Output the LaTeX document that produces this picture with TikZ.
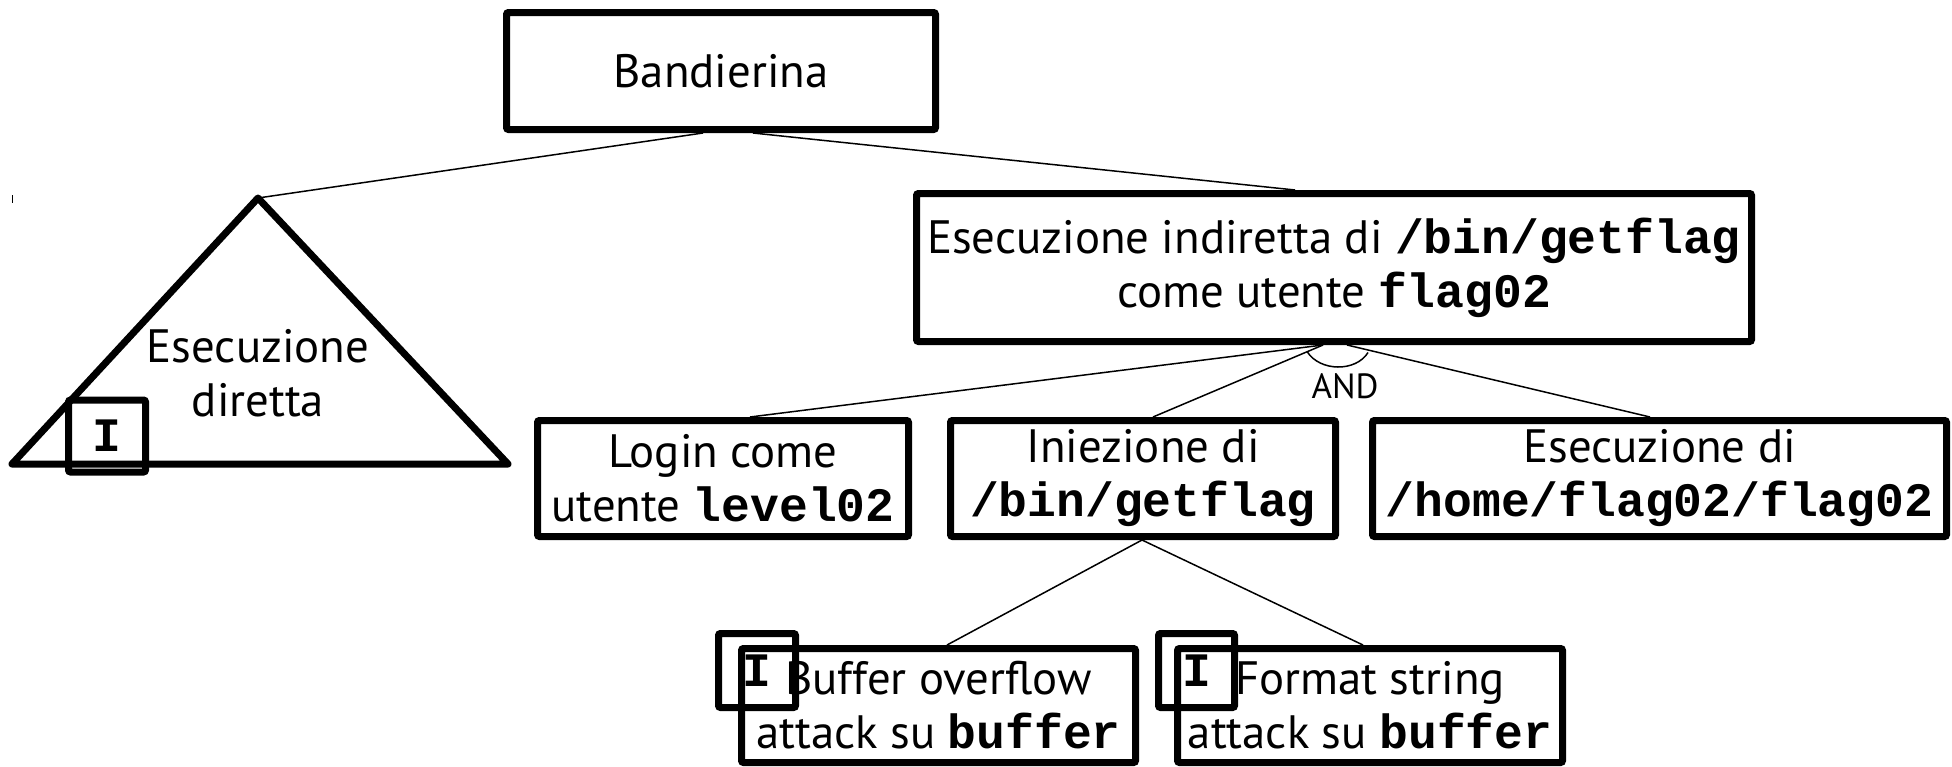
\documentclass[tikz,border=0pt]{standalone}
\usepackage{fontspec}
\setmainfont{PT Sans}
\setmonofont{Liberation Mono}
\usetikzlibrary{calc}
\newcommand{\cmdname}[1]{{\fontsize{24}{27}\selectfont\ttfamily\bfseries #1}}
\begin{document}
\begin{tikzpicture}[x=0.5pt,y=-0.5pt,
  every node/.style={font=\fontsize{23.4}{27}\selectfont},
  dims/.style 2 args={minimum width=#1*0.5pt, minimum height=#2*0.5pt},
  goal/.style={draw, line width=3.5pt, rounded corners=1pt, inner sep=0pt, align=center},
  tagbox/.style={draw, line width=3.5pt, rounded corners=1pt, inner sep=0pt, font=\fontsize{24}{27}\selectfont\ttfamily\bfseries},
  link/.style={line width=0.75pt},
  label/.style={font=\fontsize{17.5}{20}\selectfont}]
\useasboundingbox (0,0) rectangle (1952,766);

% root goal
\node[goal, dims={429}{117}] (root) at (721,71) {Bandierina};

% direct execution: triangle subtree
\coordinate (tritop) at (258,198);
\coordinate (trileft) at (12,464);
\coordinate (triright) at (508,464);
\draw[line width=3.5pt, line join=round] (tritop) -- (trileft) -- (triright) -- cycle;
\node[align=center] (direct) at (258,373) {Esecuzione\\diretta};
\node[tagbox, dims={77}{72}] (itri) at (107,436) {I};

% indirect execution
\node[goal, dims={835}{148}] (indirect) at (1334,267.5)
  {Esecuzione indiretta di \cmdname{/bin/getflag}\\come utente \cmdname{flag02}};

% AND children
\node[goal, dims={371}{116}] (login) at (723,478.5) {Login come\\utente \cmdname{level02}};
\node[goal, dims={385}{116}] (inject) at (1143,478.5) {Iniezione di\\\cmdname{/bin/getflag}};
\node[goal, dims={574}{116}] (exec) at (1659.5,478.5) {Esecuzione di\\\cmdname{/home/flag02/flag02}};

% injection techniques
\node[goal, dims={394}{114}] (bof) at (938.5,705.5) {Buffer overflow\\attack su \cmdname{buffer}};
\node[goal, dims={385}{114}] (fmt) at (1370,705.5) {Format string\\attack su \cmdname{buffer}};
\node[tagbox, dims={77}{74}] (ibof) at (757,670.5) {I};
\node[tagbox, dims={76}{74}] (ifmt) at (1196.5,670.5) {I};

% connectors
\draw[link] ($(root.south)+(-18,0)$) -- (tritop);
\draw[link] ($(root.south)+(32,0)$) -- ($(indirect.north)+(-39,0)$);
\draw[link] ($(indirect.south)+(-11,0)$) -- ($(login.north)+(27,0)$);
\draw[link] ($(indirect.south)+(-11,0)$) -- ($(inject.north)+(10,0)$);
\draw[link] ($(indirect.south)+(13,0)$) -- ($(exec.north)+(-9.5,0)$);
\draw[link] ($(inject.south)+(-1,0)$) -- ($(bof.north)+(8.5,0)$);
\draw[link] ($(inject.south)+(-1,0)$) -- ($(fmt.north)+(-7,0)$);

% AND arc
\coordinate (andorigin) at (indirect.south);
\draw[link] ($(andorigin)+(-27,6.5)$) .. controls ($(andorigin)+(-14,27)$) and ($(andorigin)+(22,27)$) .. ($(andorigin)+(34,7.5)$);
\node[label] (andlbl) at (1345,386) {AND};

% small mark at the left edge
\coordinate (marka) at (12,195);
\coordinate (markb) at (12,203);
\draw[line width=0.5pt] (marka) -- (markb);
\end{tikzpicture}
\end{document}
